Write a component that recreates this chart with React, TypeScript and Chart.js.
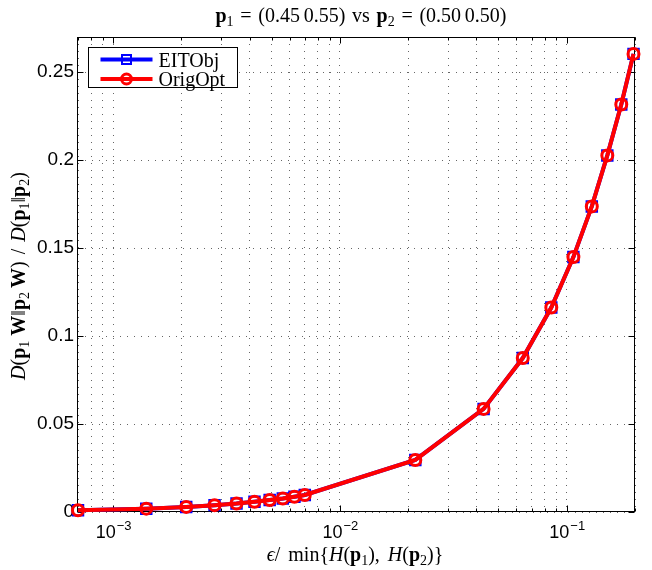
import React, { useEffect, useRef } from "react";
import { Chart, registerables } from "chart.js";

Chart.register(...registerables);

// ---- data ----
const xValues = [
  7e-4, 1.4e-3, 2.1e-3, 2.8e-3, 3.5e-3, 4.2e-3, 4.9e-3, 5.6e-3, 6.3e-3, 7e-3,
  0.0215, 0.043, 0.064, 0.0855, 0.107, 0.129, 0.151, 0.174, 0.197,
];
const eitObjValues = [
  0.001, 0.0019, 0.0029, 0.0039, 0.0048, 0.0058, 0.0068, 0.0077, 0.0087, 0.0097,
  0.0296, 0.0586, 0.0875, 0.1162, 0.1449, 0.1737, 0.2027, 0.2316, 0.2604,
];
const origOptValues = [
  0.001, 0.0019, 0.0029, 0.0039, 0.0048, 0.0058, 0.0068, 0.0077, 0.0087, 0.0097,
  0.0296, 0.0586, 0.0875, 0.1162, 0.1449, 0.1737, 0.2027, 0.2316, 0.2604,
];
const seriesNames = ["EITObj", "OrigOpt"];
const yTickValues = [0, 0.05, 0.1, 0.15, 0.2, 0.25];
const xMajorTickValues = [1e-3, 1e-2, 1e-1];
const xMinorTickValues = [
  7e-4, 8e-4, 9e-4,
  2e-3, 3e-3, 4e-3, 5e-3, 6e-3, 7e-3, 8e-3, 9e-3,
  2e-2, 3e-2, 4e-2, 5e-2, 6e-2, 7e-2, 8e-2, 9e-2,
  2e-1,
];
const xTickExponents = ["\u22123", "\u22122", "\u22121"];

// rich text pieces: [style, text]; n normal, b bold, i italic, s subscript, g gap(px)
const titleSegs: [string, string][] = [
  ["b", "p"], ["s", "1"], ["g", "6"], ["n", "="], ["g", "6"], ["n", "(0.45"], ["g", "3"],
  ["n", "0.55)"], ["g", "6"], ["n", "vs"], ["g", "6"], ["b", "p"], ["s", "2"], ["g", "6"],
  ["n", "="], ["g", "6"], ["n", "(0.50"], ["g", "3"], ["n", "0.50)"],
];
const yLabelSegs: [string, string][] = [
  ["i", "D"], ["n", "("], ["b", "p"], ["s", "1"], ["g", "1"], ["b", "W"], ["n", "\u2016"],
  ["b", "p"], ["s", "2"], ["g", "0"], ["b", "W"], ["n", ")"], ["g", "3"], ["n", "/"], ["g", "3"],
  ["i", "D"], ["n", "("], ["b", "p"], ["s", "1"], ["n", "\u2016"], ["b", "p"], ["s", "2"], ["n", ")"],
];
const xLabelSegs: [string, string][] = [
  ["i", "\u03f5"], ["n", "/"], ["g", "4"], ["n", "min"], ["n", "{"], ["i", "H"], ["n", "("],
  ["b", "p"], ["s", "1"], ["n", "),"], ["g", "4"], ["i", "H"], ["n", "("], ["b", "p"], ["s", "2"], ["n", ")}"],
];

const SERIF = '"Liberation Serif", "DejaVu Serif", serif';
const SANS = '"Liberation Sans", Arial, "DejaVu Sans", sans-serif';

function segFont(style: string, size: number) {
  if (style === "b") return `bold ${size}px ${SERIF}`;
  if (style === "i") return `italic ${size}px ${SERIF}`;
  if (style === "s") return `${Math.round(size * 0.7)}px ${SERIF}`;
  return `${size}px ${SERIF}`;
}

function drawRich(
  ctx: CanvasRenderingContext2D,
  segs: [string, string][],
  cx: number,
  cy: number,
  size: number,
  targetWidth: number,
  rotate: boolean
) {
  ctx.save();
  let natural = 0;
  let gaps = 0;
  const widths = segs.map(([st, t]) => {
    if (st === "g") {
      gaps++;
      natural += parseFloat(t);
      return parseFloat(t);
    }
    ctx.font = segFont(st, size);
    const w = ctx.measureText(t).width;
    natural += w;
    return w;
  });
  const extra = gaps > 0 ? Math.min(4, Math.max(-1, (targetWidth - natural) / gaps)) : 0;
  const total = natural + extra * gaps;
  ctx.translate(cx, cy);
  if (rotate) ctx.rotate(-Math.PI / 2);
  ctx.fillStyle = "#000";
  ctx.textBaseline = "alphabetic";
  ctx.textAlign = "left";
  let x = -total / 2;
  const base = size * 0.3;
  segs.forEach(([st, t], i) => {
    if (st === "g") {
      x += Math.max(0, widths[i] + extra);
      return;
    }
    ctx.font = segFont(st, size);
    ctx.fillText(t, x, st === "s" ? base + size * 0.2 : base);
    x += widths[i];
  });
  ctx.restore();
}

const decorPlugin = {
  id: "matlabDecor",
  beforeDatasetsDraw(chart: any) {
    const { ctx, chartArea } = chart;
    const { left, right, top, bottom } = chartArea;
    const xs = chart.scales.x;
    const ys = chart.scales.y;
    ctx.save();
    ctx.strokeStyle = "#000";
    ctx.lineWidth = 1;
    const L = Math.round(left) - 0.5;
    const R = Math.round(right) - 0.5;
    const T = Math.round(top) + 0.5;
    const B = Math.round(bottom) - 0.5;
    ctx.strokeRect(L, T, R - L, B - T);
    ctx.beginPath();
    yTickValues.forEach((v) => {
      const py = Math.round(ys.getPixelForValue(v)) + 0.5;
      ctx.moveTo(L, py);
      ctx.lineTo(L + 6, py);
      ctx.moveTo(R, py);
      ctx.lineTo(R - 6, py);
    });
    xMajorTickValues.forEach((v) => {
      const px = Math.round(xs.getPixelForValue(v)) + 0.5;
      ctx.moveTo(px, B);
      ctx.lineTo(px, B - 6);
      ctx.moveTo(px, T);
      ctx.lineTo(px, T + 6);
    });
    xMinorTickValues.forEach((v) => {
      const px = Math.round(xs.getPixelForValue(v)) + 0.5;
      ctx.moveTo(px, B);
      ctx.lineTo(px, B - 3);
      ctx.moveTo(px, T);
      ctx.lineTo(px, T + 3);
    });
    ctx.stroke();
    ctx.restore();
  },
  afterDraw(chart: any) {
    const { ctx, chartArea } = chart;
    const xs = chart.scales.x;
    ctx.save();
    // x tick labels with superscripts
    ctx.fillStyle = "#000";
    ctx.textBaseline = "alphabetic";
    ctx.textAlign = "left";
    xMajorTickValues.forEach((v, i) => {
      const px = xs.getPixelForValue(v);
      ctx.font = `18px ${SANS}`;
      const w1 = ctx.measureText("10").width;
      ctx.font = `13px ${SANS}`;
      const w2 = ctx.measureText(xTickExponents[i]).width;
      const start = px - (w1 + w2) / 2;
      ctx.font = `18px ${SANS}`;
      ctx.fillText("10", start, chartArea.bottom + 26);
      ctx.font = `13px ${SANS}`;
      ctx.fillText(xTickExponents[i], start + w1 + 1, chartArea.bottom + 18);
    });
    ctx.restore();

    drawRich(ctx, titleSegs, 361, 16, 20, 291, false);
    drawRich(ctx, yLabelSegs, 19, 276, 20, 208, true);
    drawRich(ctx, xLabelSegs, 355, 555, 20, 179, false);

    // legend inside the axes (north-west)
    ctx.save();
    const bx = chartArea.left + 10.5;
    const by = chartArea.top + 10.5;
    const bw = 149;
    const bh = 40;
    ctx.fillStyle = "#fff";
    ctx.fillRect(bx, by, bw, bh);
    ctx.strokeStyle = "#000";
    ctx.lineWidth = 1;
    ctx.strokeRect(bx, by, bw, bh);
    chart.data.datasets.forEach((ds: any, i: number) => {
      const ly = by + 12 + i * 19.5;
      ctx.strokeStyle = ds.borderColor;
      ctx.lineWidth = 4;
      ctx.beginPath();
      ctx.moveTo(bx + 12, ly);
      ctx.lineTo(bx + 64, ly);
      ctx.stroke();
      const mx = bx + 38;
      if (ds.pointStyle === "rect") {
        ctx.lineWidth = 2;
        ctx.strokeRect(mx - 4.5, ly - 4.5, 9, 9);
      } else {
        ctx.lineWidth = 3;
        ctx.beginPath();
        ctx.arc(mx, ly, 5, 0, Math.PI * 2);
        ctx.stroke();
      }
      ctx.fillStyle = "#000";
      ctx.font = `20px ${SERIF}`;
      ctx.textBaseline = "alphabetic";
      ctx.textAlign = "left";
      ctx.fillText(ds.label, bx + 70, ly + 7);
    });
    ctx.restore();
  },
};

export default function App() {
  const canvasRef = useRef<HTMLCanvasElement | null>(null);

  useEffect(() => {
    if (!canvasRef.current) return;
    const gridColor = "rgba(0,0,0,0.6)";
    const chart = new Chart(canvasRef.current, {
      type: "scatter",
      data: {
        datasets: [
          {
            label: seriesNames[0],
            data: xValues.map((x, i) => ({ x, y: eitObjValues[i] })),
            showLine: true,
            borderColor: "#0000ff",
            backgroundColor: "rgba(0,0,0,0)",
            borderWidth: 4,
            pointStyle: "rect",
            pointRadius: 7.4,
            pointBorderWidth: 2,
            pointBorderColor: "#0000ff",
            pointBackgroundColor: "rgba(0,0,0,0)",
            order: 2,
            clip: false as any,
          },
          {
            label: seriesNames[1],
            data: xValues.map((x, i) => ({ x, y: origOptValues[i] })),
            showLine: true,
            borderColor: "#ff0000",
            backgroundColor: "rgba(0,0,0,0)",
            borderWidth: 4,
            pointStyle: "circle",
            pointRadius: 5.5,
            pointBorderWidth: 3,
            pointBorderColor: "#ff0000",
            pointBackgroundColor: "rgba(0,0,0,0)",
            order: 1,
            clip: false as any,
          },
        ],
      },
      options: {
        responsive: false,
        animation: false,
        layout: { padding: { left: 0, top: 37, right: 17, bottom: 0 } },
        plugins: {
          legend: { display: false },
          tooltip: { enabled: false },
          title: { display: false },
        },
        scales: {
          x: {
            type: "logarithmic",
            min: 7e-4,
            max: 0.2,
            afterBuildTicks: (s: any) => {
              s.ticks = [...xMinorTickValues, ...xMajorTickValues]
                .sort((a, b) => a - b)
                .map((v) => ({ value: v, major: xMajorTickValues.includes(v) }));
            },
            ticks: { display: false },
            grid: { color: gridColor, lineWidth: 1, drawTicks: false },
            border: { display: false, dash: [1, 6] },
            afterFit: (s: any) => {
              s.height = 58;
            },
          },
          y: {
            type: "linear",
            min: 0,
            max: 0.27,
            afterBuildTicks: (s: any) => {
              s.ticks = yTickValues.map((v) => ({ value: v }));
            },
            ticks: {
              color: "#000",
              padding: 4,
              font: { family: SANS, size: 19 },
              callback: (v: any) => String(v),
            },
            grid: { color: gridColor, lineWidth: 1, drawTicks: false },
            border: { display: false, dash: [1, 6] },
            afterFit: (s: any) => {
              s.width = 78;
            },
          },
        },
      },
      plugins: [decorPlugin],
    } as any);
    return () => chart.destroy();
  }, []);

  return (
    <div style={{ position: "absolute", left: 0, top: 0, width: 652, height: 570, background: "#fff" }}>
      <canvas ref={canvasRef} width={652} height={570} />
    </div>
  );
}
